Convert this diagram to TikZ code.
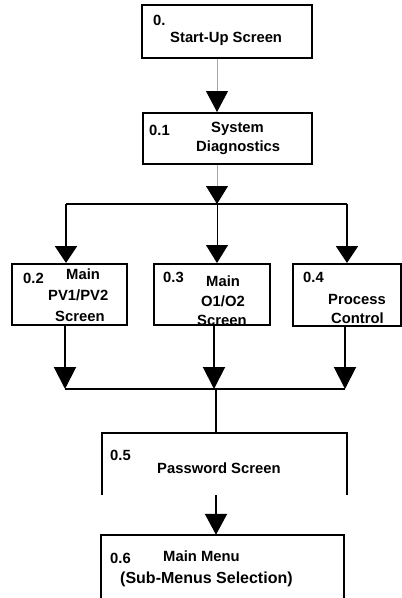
\documentclass[tikz,border=0pt]{standalone}
\usepackage{fontspec}
\setmainfont{Liberation Sans}
\usetikzlibrary{arrows.meta}
\tikzset{
  box/.style={draw=black, line width=2pt, minimum width=#1, inner sep=0pt},
  lbl/.style={anchor=base west, inner sep=0pt, font=\fontsize{14.8pt}{16pt}\selectfont\bfseries},
  tip/.style={-{Triangle[width=22pt,length=#1,color=black]}},
  thinline/.style={draw=gray!70, line width=0.8pt},
  thickline/.style={draw=black, line width=2pt},
}
\begin{document}
\begin{tikzpicture}[x=1pt,y=-1pt]
\useasboundingbox (0,0) rectangle (402,598);
% boxes
\node[box=170pt, minimum height=53pt] (b0) at (227,31.5) {};
\node[box=169pt, minimum height=51pt] (b1) at (227.5,138.5) {};
\node[box=115pt, minimum height=61pt] (b2) at (69.5,294.5) {};
\node[box=116pt, minimum height=61pt] (b3) at (212,294.5) {};
\node[box=108pt, minimum height=62pt] (b4) at (347,295) {};
\node[minimum width=245pt, minimum height=62pt, inner sep=0pt] (b5) at (224.5,464) {};
\node[minimum width=243pt, minimum height=64pt, inner sep=0pt] (b6) at (222.5,567) {};
\draw[thickline] (b5.south west) -- (b5.north west) -- (b5.north east) -- (b5.south east);
\draw[thickline] (b6.south west) -- (b6.north west) -- (b6.north east) -- (b6.south east);
% junction coordinates
\coordinate (ja) at (217,204);
\coordinate (jl) at (66,204);
\coordinate (jr) at (347,204);
\coordinate (ka) at (216,389);
\coordinate (kl) at (65,389);
\coordinate (km) at (214,389);
\coordinate (kr) at (345,389);
% connectors
\draw[thinline, tip=21pt] (b0.south -| ja) -- (b1.north -| ja);
\draw[thinline, tip=18pt] (b1.south -| ja) -- (ja);
\draw[thickline] (jl) -- (jr);
\draw[thickline, tip=17pt] (jl) -- (b2.north -| jl);
\draw[draw=black, line width=1pt, tip=18pt] (ja) -- (b3.north -| ja);
\draw[thickline, tip=17pt] (jr) -- (b4.north -| jr);
\draw[thickline, tip=22pt] (b2.south -| kl) -- (kl);
\draw[thickline, tip=22pt] (b3.south -| km) -- (km);
\draw[thickline, tip=22pt] (b4.south -| kr) -- (kr);
\draw[thickline] (kl) -- (kr);
\draw[thickline] (ka) -- (b5.north -| ka);
\draw[thickline, tip=21pt] (b5.south -| ka) -- (b6.north -| ka);
% labels
\node[lbl] (n0) at (153,25) {0.};
\node[lbl] (t0) at (170,42) {Start-Up Screen};
\node[lbl] (n1) at (149,135) {0.1};
\node[lbl] (t1a) at (211,132) {System};
\node[lbl] (t1b) at (196,151) {Diagnostics};
\node[lbl] (n2) at (23,283) {0.2};
\node[lbl] (t2a) at (66,279) {Main};
\node[lbl] (t2b) at (48,300) {PV1/PV2};
\node[lbl] (t2c) at (55,321) {Screen};
\node[lbl] (n3) at (163,282) {0.3};
\node[lbl] (t3a) at (206,286) {Main};
\node[lbl] (t3b) at (201,306) {O1/O2};
\node[lbl] (t3c) at (197,325) {Screen};
\node[lbl] (n4) at (303,282) {0.4};
\node[lbl] (t4a) at (328,304) {Process};
\node[lbl] (t4b) at (331,323) {Control};
\node[lbl] (n5) at (110,460) {0.5};
\node[lbl] (t5) at (157,473) {Password Screen};
\node[lbl] (n6) at (110,563) {0.6};
\node[lbl] (t6a) at (163,561) {Main Menu};
\node[lbl, font=\fontsize{16pt}{17pt}\selectfont\bfseries] (t6b) at (120,583) {(Sub-Menus Selection)};
\end{tikzpicture}
\end{document}
